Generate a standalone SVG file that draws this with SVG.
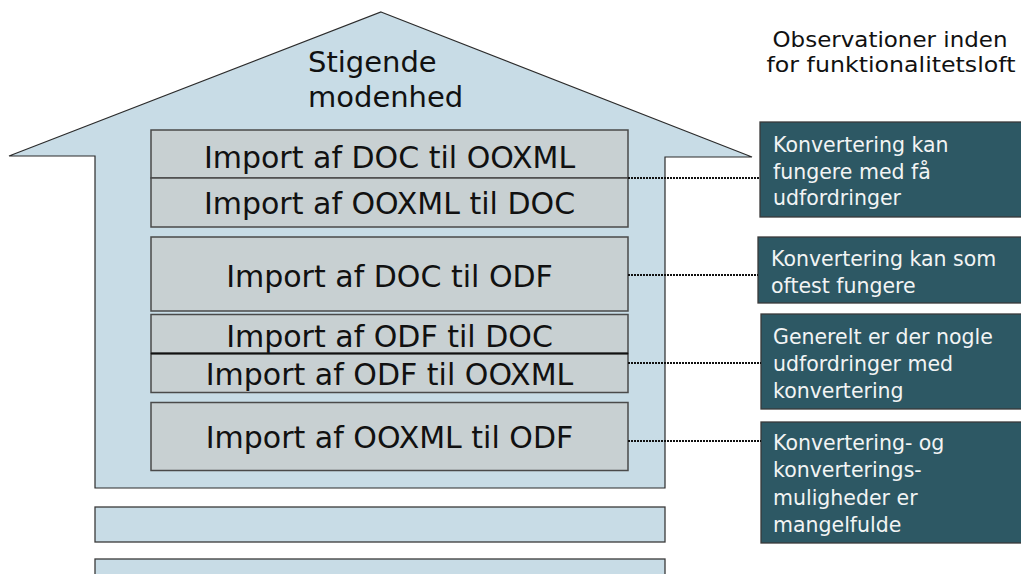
<svg xmlns="http://www.w3.org/2000/svg" width="1021" height="574" viewBox="0 0 1021 574">
  <style>
    .house { fill: #c8dce6; stroke: #2b2b2b; stroke-width: 1.2; }
    .bar { fill: #c8dce6; stroke: #3a3a3a; stroke-width: 1.3; }
    .layer { fill: #c8d0d2; stroke: #4a4a4a; stroke-width: 1.5; }
    .note { fill: #2d5864; stroke: #3a3a3a; stroke-width: 1.3; }
    .main { font-family: "DejaVu Sans", Verdana, sans-serif; font-size: 30px; fill: #111; text-anchor: middle; }
    .title { font-family: "DejaVu Sans", Verdana, sans-serif; font-size: 29px; fill: #111; }
    .head { font-family: "DejaVu Sans", Verdana, sans-serif; font-size: 21.5px; fill: #111; text-anchor: middle; }
    .ntext { font-family: "DejaVu Sans", Verdana, sans-serif; font-size: 20.5px; fill: #f2f4f4; }
    .link { stroke: #111; stroke-width: 2; stroke-dasharray: 2 1; fill: none; }
  </style>

  <!-- house outline -->
  <g id="house">
    <polygon class="house" points="381,12 752,157 665,157 665,488 95,488 95,156 9,156"/>
    <text class="title" x="308" y="72">Stigende</text>
    <text class="title" x="308" y="107">modenhed</text>
  </g>

  <!-- foundation bars -->
  <g id="foundation-1"><rect class="bar" x="95" y="507" width="570" height="35"/></g>
  <g id="foundation-2"><rect class="bar" x="95" y="559" width="570" height="25"/></g>

  <!-- conversion layers -->
  <g id="doc-to-ooxml">
    <rect class="layer" x="151" y="130" width="477" height="48"/>
    <text class="main" x="389.5" y="168">Import af DOC til OOXML</text>
  </g>
  <g id="ooxml-to-doc">
    <rect class="layer" x="151" y="178" width="477" height="49"/>
    <text class="main" x="389.5" y="214">Import af OOXML til DOC</text>
  </g>
  <g id="doc-to-odf">
    <rect class="layer" x="151" y="237" width="477" height="74"/>
    <text class="main" x="389.5" y="287">Import af DOC til ODF</text>
  </g>
  <g id="odf-to-doc">
    <rect class="layer" x="151" y="314.5" width="477" height="39"/>
    <text class="main" x="389.5" y="347">Import af ODF til DOC</text>
  </g>
  <g id="odf-to-ooxml">
    <rect class="layer" x="151" y="353.5" width="477" height="39"/>
    <line x1="151" y1="353.5" x2="628" y2="353.5" stroke="#111" stroke-width="2"/>
    <text class="main" x="389.5" y="385">Import af ODF til OOXML</text>
  </g>
  <g id="ooxml-to-odf">
    <rect class="layer" x="151" y="402.5" width="477" height="68"/>
    <text class="main" x="389.5" y="448">Import af OOXML til ODF</text>
  </g>

  <!-- column heading -->
  <g id="heading">
    <text class="head" x="890" y="47" textLength="235" lengthAdjust="spacingAndGlyphs">Observationer inden</text>
    <text class="head" x="891" y="72" textLength="249" lengthAdjust="spacingAndGlyphs">for funktionalitetsloft</text>
  </g>

  <!-- observation notes -->
  <g id="note-1">
    <rect class="note" x="760" y="122" width="280" height="95"/>
    <text class="ntext" x="773" y="152">Konvertering kan</text>
    <text class="ntext" x="773" y="178.5">fungere med få</text>
    <text class="ntext" x="773" y="205">udfordringer</text>
  </g>
  <g id="note-2">
    <rect class="note" x="758" y="237" width="280" height="66"/>
    <text class="ntext" x="771" y="266">Konvertering kan som</text>
    <text class="ntext" x="771" y="292.5">oftest fungere</text>
  </g>
  <g id="note-3">
    <rect class="note" x="761" y="314" width="280" height="95"/>
    <text class="ntext" x="773" y="344">Generelt er der nogle</text>
    <text class="ntext" x="773" y="371">udfordringer med</text>
    <text class="ntext" x="773" y="398">konvertering</text>
  </g>
  <g id="note-4">
    <rect class="note" x="761" y="422" width="280" height="121"/>
    <text class="ntext" x="773" y="450">Konvertering- og</text>
    <text class="ntext" x="773" y="477">konverterings-</text>
    <text class="ntext" x="773" y="504.5">muligheder er</text>
    <text class="ntext" x="773" y="532">mangelfulde</text>
  </g>

  <!-- dotted leader lines -->
  <g id="connectors">
    <line class="link" x1="628" y1="178" x2="760" y2="178"/>
    <line class="link" x1="628" y1="275" x2="758" y2="275"/>
    <line class="link" x1="628" y1="363" x2="761" y2="363"/>
    <line class="link" x1="628" y1="441" x2="761" y2="441"/>
  </g>
</svg>
